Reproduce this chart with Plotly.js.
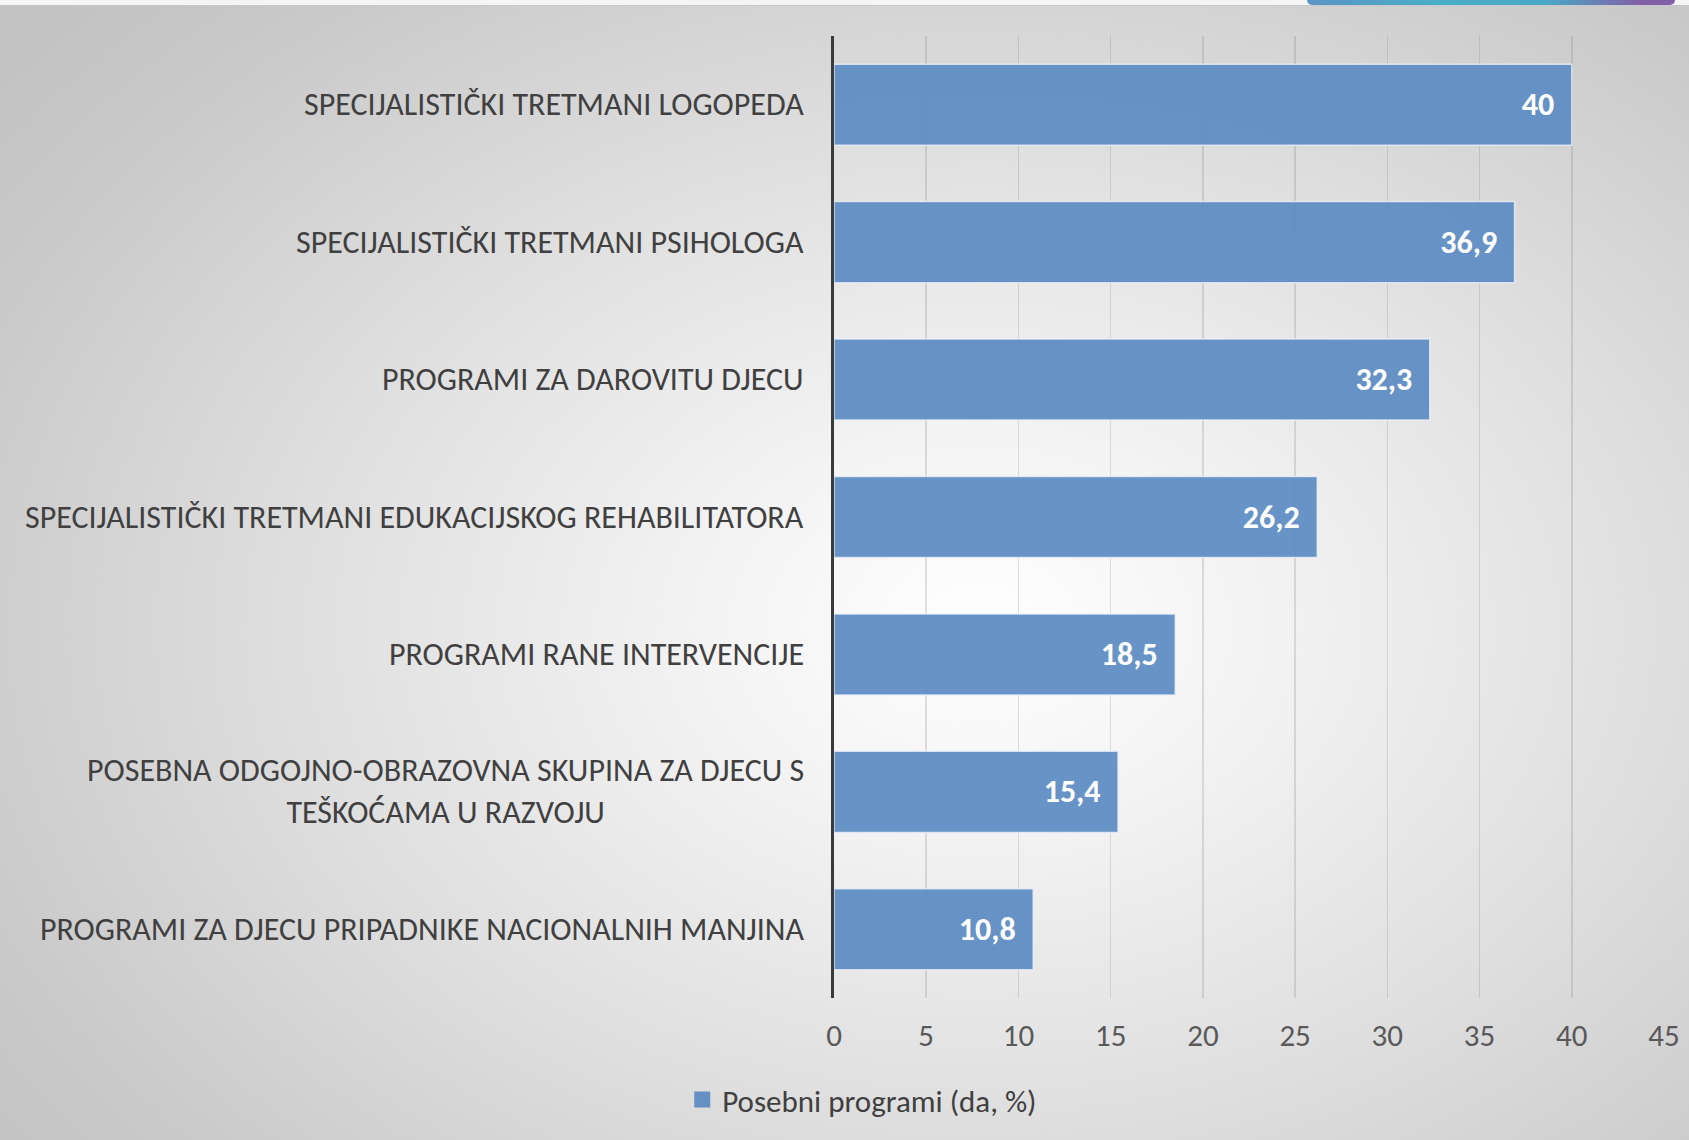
<!DOCTYPE html>
<html>
<head>
<meta charset="utf-8">
<script src="https://cdn.plot.ly/plotly-3.0.1.min.js"></script>
<style>
  html, body { margin: 0; padding: 0; width: 1689px; height: 1140px; overflow: hidden; }
  body {
    background: radial-gradient(ellipse 75% 80% at 58% 55%, #ffffff 0%, #f3f3f3 22%, #dedede 55%, #c9c9c9 85%, #c2c2c2 100%);
    position: relative;
  }
  #topstrip { position: absolute; left: 0; top: 0; width: 1689px; height: 5px; background: #f5f5f5; border-bottom: 1px solid #c8c8c8; }
  #deco { position: absolute; left: 1307px; top: 0; width: 368px; height: 5px;
    background: linear-gradient(90deg, #5b94c4 0%, #4aaec8 35%, #4aa8c6 65%, #8060a8 90%, #7f5fa6 100%);
    border-radius: 0 0 60px 60px; }
  #chart { position: absolute; left: 0; top: 0; width: 1689px; height: 1140px; }
</style>
</head>
<body>
<div id="topstrip"></div>
<div id="deco"></div>
<div id="chart"></div>
<script>
const categories = [
  "SPECIJALISTIČKI TRETMANI LOGOPEDA",
  "SPECIJALISTIČKI TRETMANI PSIHOLOGA",
  "PROGRAMI ZA DAROVITU DJECU",
  "SPECIJALISTIČKI TRETMANI EDUKACIJSKOG REHABILITATORA",
  "PROGRAMI RANE INTERVENCIJE",
  "POSEBNA ODGOJNO-OBRAZOVNA SKUPINA ZA DJECU S<br>TEŠKOĆAMA U RAZVOJU",
  "PROGRAMI ZA DJECU PRIPADNIKE NACIONALNIH MANJINA"
];
const values = [40, 36.9, 32.3, 26.2, 18.5, 15.4, 10.8];
const xTicks = [0, 5, 10, 15, 20, 25, 30, 35, 40, 45];
const seriesName = "Posebni programi (da, %)";

const FONT = 'Carlito, "Liberation Sans Narrow", "Open Sans", sans-serif';
const barColor = "rgba(96,141,195,0.95)";
const legendColor = "#6590c4";

const labelText = values.map(v => String(v).replace(".", ",") + "\u00a0\u00a0");

const barTrace = {
  type: "bar",
  orientation: "h",
  y: categories,
  x: values,
  name: seriesName,
  text: labelText,
  textposition: "inside",
  insidetextanchor: "end",
  constraintext: "none",
  textfont: { family: FONT, size: 32, color: "#ffffff", weight: "bold" },
  marker: { color: barColor, line: { color: "rgba(235,240,248,0.8)", width: 1.5 } },
  hoverinfo: "none",
  showlegend: false
};

// legend-only helper on hidden axes (its point lies outside the hidden range, so nothing is drawn)
const legendTrace = {
  type: "scatter",
  mode: "markers",
  x: [0], y: [0],
  xaxis: "x2", yaxis: "y2",
  cliponaxis: true,
  name: seriesName,
  marker: { symbol: "square", size: 18, color: legendColor },
  hoverinfo: "none",
  showlegend: true
};

const annotations = categories.map(c => ({
  x: 0, xref: "paper", xanchor: "right", xshift: -28,
  y: c, yref: "y", yanchor: "middle",
  text: c, align: "center", showarrow: false,
  font: { family: FONT, size: 32, color: "#404040" }
}));

const layout = {
  width: 1689, height: 1140,
  margin: { l: 834, r: 25, t: 36, b: 142, pad: 0 },
  paper_bgcolor: "rgba(0,0,0,0)",
  plot_bgcolor: "rgba(0,0,0,0)",
  separators: ", ",
  bargap: 0.41,
  font: { family: FONT, size: 32, color: "#595959" },
  xaxis: {
    range: [0, 45], tickvals: xTicks, ticktext: xTicks.map(String),
    showgrid: true, gridcolor: "rgba(120,120,120,0.22)", gridwidth: 1.5,
    zeroline: false, showline: false, ticks: "",
    tickfont: { family: FONT, size: 31, color: "#595959" },
    ticklabelstandoff: 16, fixedrange: true
  },
  yaxis: {
    type: "category", autorange: "reversed",
    showticklabels: false, showgrid: false, zeroline: false,
    showline: true, linecolor: "#3a3a3a", linewidth: 3, ticks: "", fixedrange: true
  },
  xaxis2: { overlaying: "x", range: [10, 11], visible: false, fixedrange: true },
  yaxis2: { overlaying: "y", range: [10, 11], visible: false, fixedrange: true },
  showlegend: true,
  legend: {
    orientation: "h", x: 0.034, xanchor: "center",
    y: -0.106, yanchor: "middle",
    bgcolor: "rgba(0,0,0,0)",
    font: { family: FONT, size: 31, color: "#404040" }
  },
  annotations: annotations
};

Plotly.newPlot("chart", [barTrace, legendTrace], layout, { displayModeBar: false, staticPlot: true });
</script>
</body>
</html>
